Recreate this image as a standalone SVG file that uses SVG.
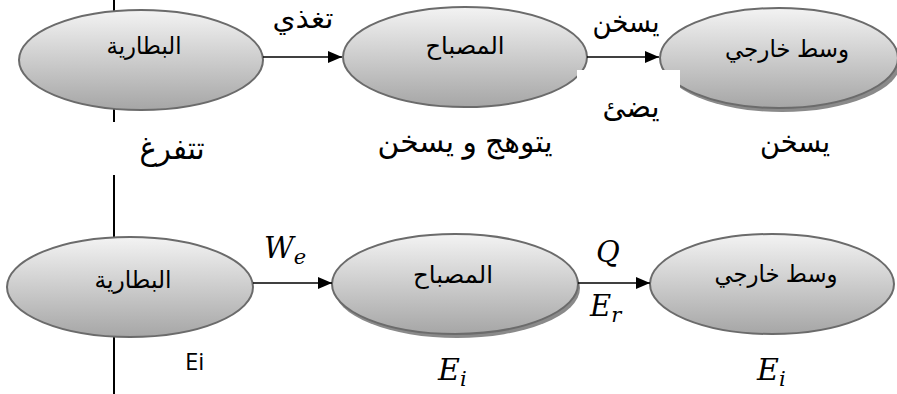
<svg xmlns="http://www.w3.org/2000/svg" width="897" height="394" viewBox="0 0 897 394">
<style>
.node{stroke:#6b6b6b;stroke-width:2;fill:url(#g)}
.shadow{fill:#8a8a8a}
.ar{font-family:"Liberation Sans","DejaVu Sans",sans-serif;fill:#000;text-anchor:middle}
.in{font-size:24px}
.lab{font-size:30px}
.m{font-family:"DejaVu Serif","Liberation Serif",serif;font-style:italic;fill:#000}
.conn{stroke:#000;stroke-width:1.5;fill:none;marker-end:url(#ah)}
</style>
<defs>
<linearGradient id="g" x1="0" y1="0" x2="0" y2="1">
<stop offset="0" stop-color="#f3f3f3"/>
<stop offset="1" stop-color="#a6a6a6"/>
</linearGradient>
<marker id="ah" markerWidth="14" markerHeight="12" refX="14" refY="6" orient="auto" markerUnits="userSpaceOnUse">
<path d="M0,0 L14,6 L0,12 Z" fill="#000"/>
</marker>
</defs>
<rect width="897" height="394" fill="#fff"/>
<line x1="114" y1="0" x2="114" y2="394" stroke="#000" stroke-width="2"/>
<g id="node-battery-top">
<ellipse class="node" cx="141" cy="60" rx="122" ry="50"/>
<text class="ar in" x="144" y="54" textLength="75" lengthAdjust="spacingAndGlyphs">البطارية</text>
</g>
<g id="node-lamp-top">
<ellipse class="node" cx="465" cy="57" rx="122" ry="50"/>
<text class="ar in" x="465" y="54" textLength="79" lengthAdjust="spacingAndGlyphs">المصباح</text>
</g>
<g id="node-ext-top">
<ellipse class="shadow" cx="782" cy="62" rx="119" ry="50"/>
<ellipse class="node" cx="779" cy="58" rx="119" ry="50"/>
<text class="ar in" x="787" y="57" textLength="124" lengthAdjust="spacingAndGlyphs">وسط خارجي</text>
</g>
<g id="node-battery-bottom">
<ellipse class="node" cx="130" cy="287" rx="123" ry="50"/>
<text class="ar in" x="133" y="288" textLength="77" lengthAdjust="spacingAndGlyphs">البطارية</text>
</g>
<g id="node-lamp-bottom">
<ellipse class="shadow" cx="457" cy="288" rx="123" ry="50"/>
<ellipse class="node" cx="455" cy="284" rx="123" ry="50"/>
<text class="ar in" x="453" y="283" textLength="80" lengthAdjust="spacingAndGlyphs">المصباح</text>
</g>
<g id="node-ext-bottom">
<ellipse class="node" cx="772" cy="284" rx="122" ry="50"/>
<text class="ar in" x="776" y="282" textLength="123" lengthAdjust="spacingAndGlyphs">وسط خارجي</text>
</g>
<rect x="577" y="70" width="103" height="55" fill="#fff"/>
<rect x="104" y="122" width="112" height="53" fill="#fff"/>
<g id="connectors">
<line class="conn" x1="263" y1="57" x2="342" y2="57"/>
<line class="conn" x1="587" y1="57" x2="659" y2="57"/>
<line class="conn" x1="253" y1="283" x2="332" y2="283"/>
<line class="conn" x1="578" y1="283" x2="650" y2="283"/>
</g>
<g id="labels">
<text class="ar" x="303" y="28" font-size="28" textLength="61" lengthAdjust="spacingAndGlyphs">تغذي</text>
<text class="ar lab" x="626" y="32" textLength="67" lengthAdjust="spacingAndGlyphs">يسخن</text>
<text class="ar lab" x="631" y="117" textLength="57" lengthAdjust="spacingAndGlyphs">يضئ</text>
<text class="ar" x="172" y="159" font-size="32" textLength="65" lengthAdjust="spacingAndGlyphs">تتفرغ</text>
<text class="ar lab" x="465" y="152" textLength="175" lengthAdjust="spacingAndGlyphs">يتوهج و يسخن</text>
<text class="ar lab" x="795" y="152" textLength="70" lengthAdjust="spacingAndGlyphs">يسخن</text>
<text class="m" x="264" y="258" font-size="29">W<tspan font-size="21" dy="6">e</tspan></text>
<text class="m" x="596" y="262" font-size="29">Q</text>
<text class="m" x="590" y="316" font-size="29">E<tspan font-size="21" dy="6">r</tspan></text>
<text x="185" y="370" font-family="'Open Sans','Liberation Sans',sans-serif" font-size="24" fill="#000">Ei</text>
<text class="m" x="438" y="380" font-size="30">E<tspan font-size="21" dy="6">i</tspan></text>
<text class="m" x="757" y="380" font-size="30">E<tspan font-size="21" dy="6">i</tspan></text>
</g>
</svg>
